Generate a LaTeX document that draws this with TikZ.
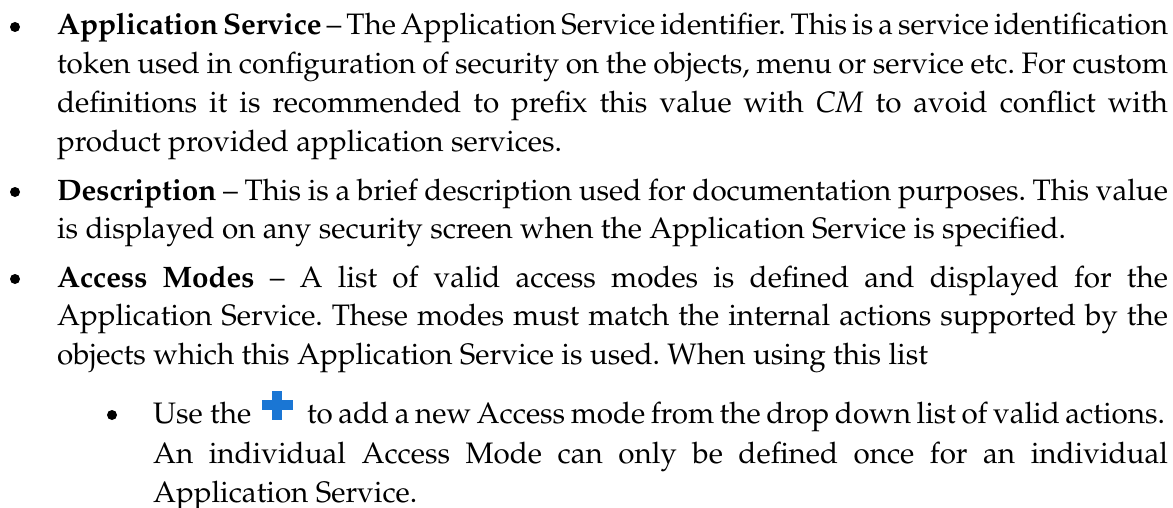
\documentclass[tikz,border=0pt]{standalone}
\usepackage[T1]{fontenc}
\renewcommand{\rmdefault}{ppl}
\usepackage{tikz}
\usetikzlibrary{positioning,calc}
\definecolor{plusblue}{RGB}{26,118,212}
\newlength{\pxu}
\setlength{\pxu}{0.5pt}
\newcommand{\jline}[2]{{\spaceskip=0.25em plus 0.5em minus 0.1em\makebox[#1\pxu][s]{#2}}}
\frenchspacing
\tikzset{
	txtline/.style={anchor=base west, inner sep=0pt, outer sep=0pt, font=\fontsize{14.8}{19}\selectfont},
	blt/.style={circle, fill=black, inner sep=0pt, minimum size=5pt}
}

\begin{document}
\begin{tikzpicture}[x=0.5pt, y=-0.5pt]
			%%%%% START %%%%%
			\useasboundingbox[fill=white] (0, 0) rectangle (1173, 508);
			
			% Application Service
			\node[blt] (b1) at (15, 27) {};
			\node[txtline] (as1) at (57, 35) {\jline{1111}{\textbf{Application Service} -- The Application Service identifier. This is a service identification}};
			\node[txtline] (as2) at (57, 74) {\jline{1111}{token used in configuration of security on the objects, menu or service etc. For custom}};
			\node[txtline] (as3) at (57, 113) {\jline{1111}{definitions it is recommended to prefix this value with \textit{CM} to avoid conflict with}};
			\node[txtline] (as4) at (57, 152) {product provided application services.};
			
			% Description
			\node[blt] (b2) at (15, 192) {};
			\node[txtline] (ds1) at (57, 200) {\jline{1111}{\textbf{Description} -- This is a brief description used for documentation purposes. This value}};
			\node[txtline] (ds2) at (57, 238) {is displayed on any security screen when the Application Service is specified.};
			
			% Access Modes
			\node[blt] (b3) at (15, 279) {};
			\node[txtline] (am1) at (57, 287) {\jline{1111}{\textbf{Access Modes} -- A list of valid access modes is defined and displayed for the}};
			\node[txtline] (am2) at (57, 325) {\jline{1111}{Application Service. These modes must match the internal actions supported by the}};
			\node[txtline] (am3) at (57, 364) {objects which this Application Service is used. When using this list};
			
			% sub bullet
			\node[blt] (b4) at (112, 415) {};
			\node[txtline] (sb1) at (153, 423) {Use the};
			\coordinate (plus) at (277, 405);
			\fill[plusblue] ($(plus)+(-15.5, -5)$) rectangle ($(plus)+(15.5, 5)$);
			\fill[plusblue] ($(plus)+(-5, -14.5)$) rectangle ($(plus)+(5, 14.5)$);
			\node[txtline] (sb2) at (307, 423) {\jline{858}{to add a new Access mode from the drop down list of valid actions.}};
			\node[txtline] (sb3) at (153, 463) {\jline{1015}{An individual Access Mode can only be defined once for an individual}};
			\node[txtline] (sb4) at (153, 502) {Application Service.};
			%%%%% END %%%%%
		\end{tikzpicture}
\end{document}
